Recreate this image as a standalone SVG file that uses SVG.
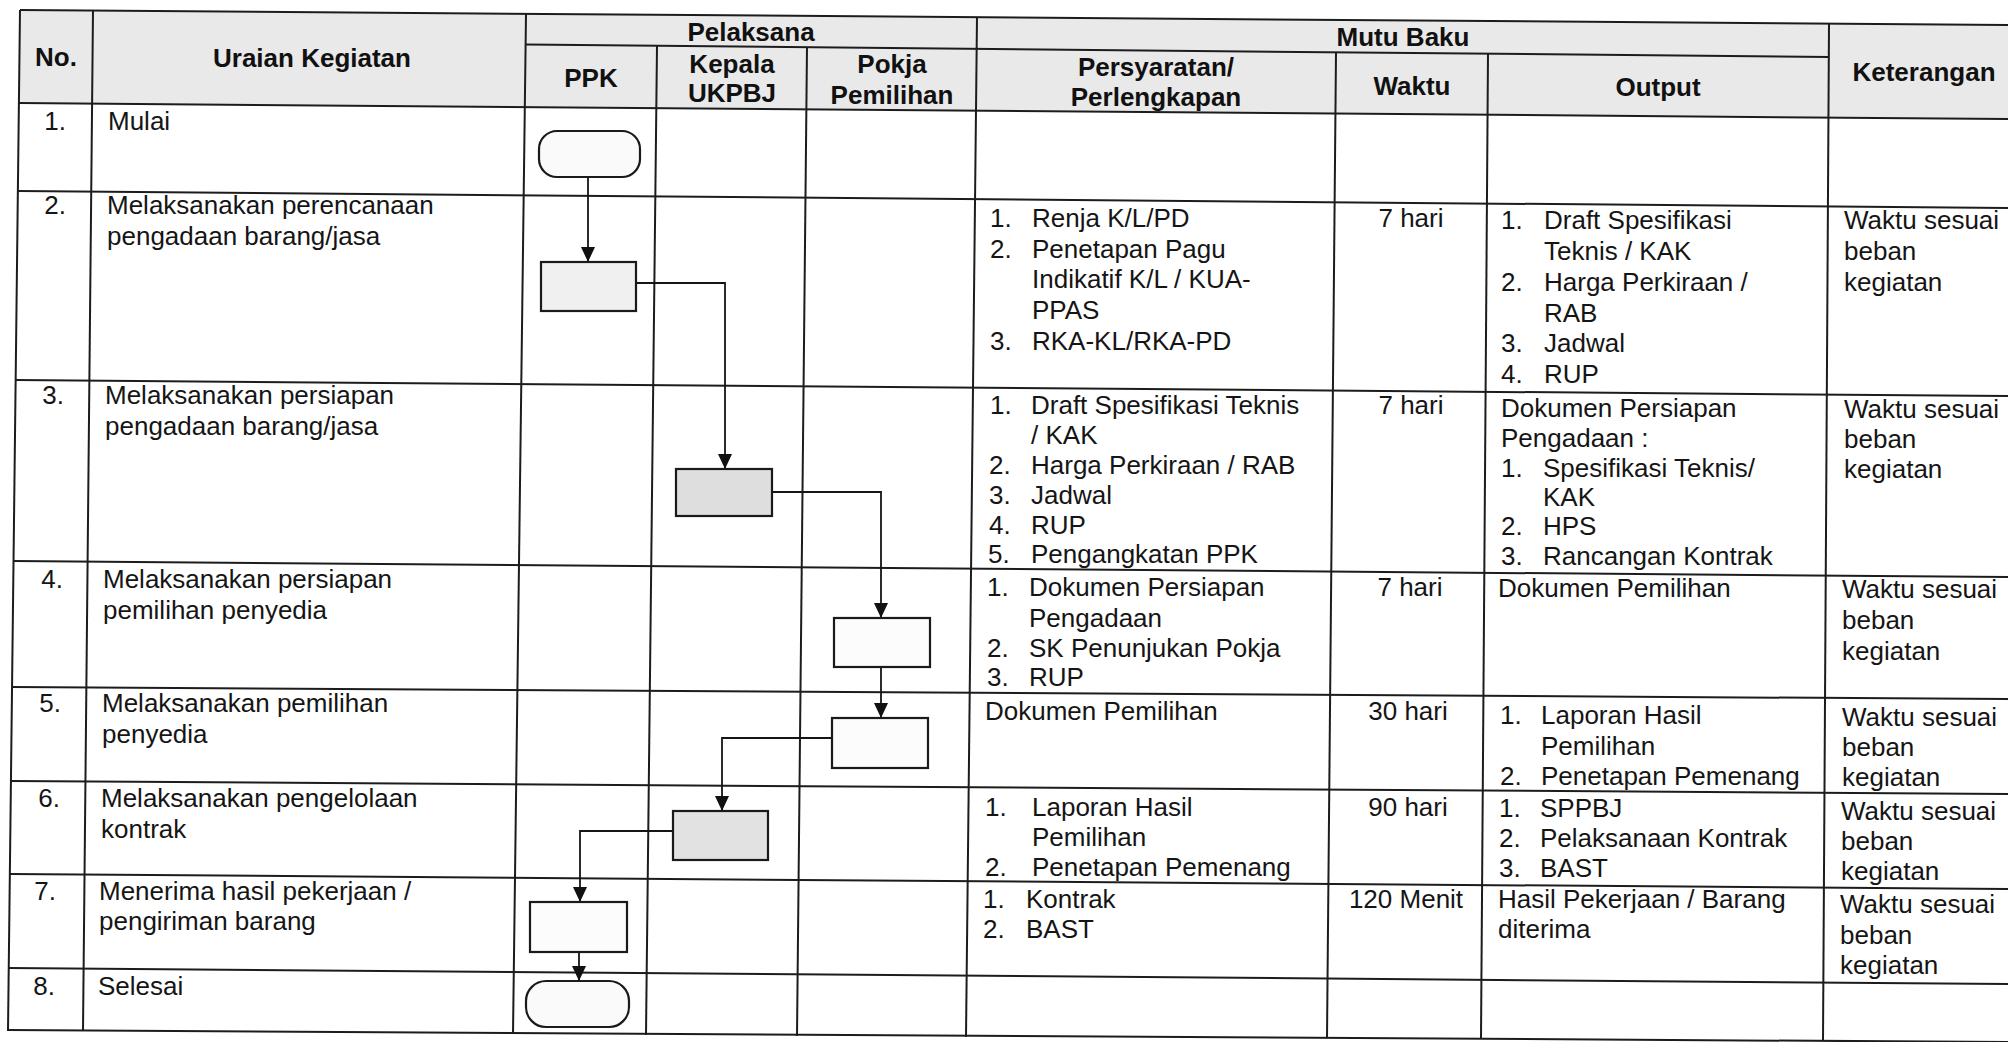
<svg xmlns="http://www.w3.org/2000/svg" width="2008" height="1042" viewBox="0 0 2008 1042">
<style>
.ln{stroke:#1c1c1c;stroke-width:2;fill:none}
.h{font-family:"Liberation Sans",Arial,sans-serif;font-size:26px;font-weight:bold;fill:#111;text-anchor:middle}
.t{font-family:"Liberation Sans",Arial,sans-serif;font-size:26px;fill:#151515}
.e{text-anchor:end}
.m{text-anchor:middle}
.box{stroke:#1a1a1a;stroke-width:2.2}
.cn{stroke:#151515;stroke-width:1.8;fill:none}
</style>
<defs>
<marker id="ah" viewBox="0 0 15 14" markerWidth="15" markerHeight="14" refX="15" refY="7" orient="auto" markerUnits="userSpaceOnUse">
<path d="M0,0 L15,7 L0,14 z" fill="#111"/>
</marker>
</defs>
<rect width="2008" height="1042" fill="#fff"/>
<polygon points="20,10 2008,25 2008,119 19,103" fill="#e9e9e9"/>
<g id="table">
<line class="ln" x1="20" y1="10" x2="2008" y2="25"/>
<line class="ln" x1="526" y1="44.5" x2="1829" y2="57"/>
<line class="ln" x1="19" y1="103" x2="2008" y2="119"/>
<line class="ln" x1="18" y1="191" x2="2008" y2="208"/>
<line class="ln" x1="15.6" y1="380" x2="2008" y2="396"/>
<line class="ln" x1="13.4" y1="561" x2="2008" y2="577"/>
<line class="ln" x1="11.9" y1="687" x2="2008" y2="699"/>
<line class="ln" x1="10.7" y1="781" x2="2008" y2="794"/>
<line class="ln" x1="9.6" y1="874" x2="2008" y2="889"/>
<line class="ln" x1="8.5" y1="968" x2="2008" y2="984"/>
<line class="ln" x1="7.8" y1="1030" x2="2008" y2="1042"/>
<line class="ln" x1="20" y1="10" x2="8" y2="1031"/>
<line class="ln" x1="93" y1="10.5" x2="83" y2="1031"/>
<line class="ln" x1="526" y1="14" x2="513" y2="1034"/>
<line class="ln" x1="657" y1="46" x2="646" y2="1035"/>
<line class="ln" x1="807" y1="47" x2="797" y2="1036"/>
<line class="ln" x1="977" y1="17" x2="966" y2="1037"/>
<line class="ln" x1="1336" y1="52" x2="1327" y2="1038"/>
<line class="ln" x1="1488" y1="53.5" x2="1481" y2="1039"/>
<line class="ln" x1="1829" y1="23.5" x2="1823" y2="1041"/>
</g>
<g id="header">
<text class="h" x="56" y="66">No.</text>
<text class="h" x="312" y="67">Uraian Kegiatan</text>
<text class="h" x="751" y="41">Pelaksana</text>
<text class="h" x="591" y="87">PPK</text>
<text class="h" x="732" y="73">Kepala</text>
<text class="h" x="732" y="102">UKPBJ</text>
<text class="h" x="892" y="73">Pokja</text>
<text class="h" x="892" y="104">Pemilihan</text>
<text class="h" x="1403" y="46">Mutu Baku</text>
<text class="h" x="1156" y="76">Persyaratan/</text>
<text class="h" x="1156" y="106">Perlengkapan</text>
<text class="h" x="1412" y="95">Waktu</text>
<text class="h" x="1658" y="96">Output</text>
<text class="h" x="1924" y="81">Keterangan</text>
</g>
<g id="row1">
<text class="t e" x="66" y="130">1.</text>
<text class="t" x="108" y="130">Mulai</text>
</g>
<g id="row2">
<text class="t e" x="66" y="214">2.</text>
<text class="t" x="107" y="214">Melaksanakan perencanaan</text>
<text class="t" x="107" y="245">pengadaan barang/jasa</text>
<text class="t" x="990" y="227">1.</text><text class="t" x="1032" y="227">Renja K/L/PD</text>
<text class="t" x="990" y="258">2.</text><text class="t" x="1032" y="258">Penetapan Pagu</text>
<text class="t" x="1032" y="288">Indikatif K/L / KUA-</text>
<text class="t" x="1032" y="319">PPAS</text>
<text class="t" x="990" y="350">3.</text><text class="t" x="1032" y="350">RKA-KL/RKA-PD</text>
<text class="t m" x="1411" y="227">7 hari</text>
<text class="t" x="1501" y="229">1.</text><text class="t" x="1544" y="229">Draft Spesifikasi</text>
<text class="t" x="1544" y="260">Teknis / KAK</text>
<text class="t" x="1501" y="291">2.</text><text class="t" x="1544" y="291">Harga Perkiraan /</text>
<text class="t" x="1544" y="322">RAB</text>
<text class="t" x="1501" y="352">3.</text><text class="t" x="1544" y="352">Jadwal</text>
<text class="t" x="1501" y="383">4.</text><text class="t" x="1544" y="383">RUP</text>
<text class="t" x="1844" y="229">Waktu sesuai</text>
<text class="t" x="1844" y="260">beban</text>
<text class="t" x="1844" y="291">kegiatan</text>
</g>
<g id="row3">
<text class="t e" x="64" y="404">3.</text>
<text class="t" x="105" y="404">Melaksanakan persiapan</text>
<text class="t" x="105" y="435">pengadaan barang/jasa</text>
<text class="t" x="990" y="414">1.</text><text class="t" x="1031" y="414">Draft Spesifikasi Teknis</text>
<text class="t" x="1031" y="444">/ KAK</text>
<text class="t" x="989" y="474">2.</text><text class="t" x="1031" y="474">Harga Perkiraan / RAB</text>
<text class="t" x="989" y="504">3.</text><text class="t" x="1031" y="504">Jadwal</text>
<text class="t" x="989" y="534">4.</text><text class="t" x="1031" y="534">RUP</text>
<text class="t" x="988" y="563">5.</text><text class="t" x="1031" y="563">Pengangkatan PPK</text>
<text class="t m" x="1411" y="414">7 hari</text>
<text class="t" x="1501" y="417">Dokumen Persiapan</text>
<text class="t" x="1501" y="447">Pengadaan :</text>
<text class="t" x="1501" y="477">1.</text><text class="t" x="1543" y="477">Spesifikasi Teknis/</text>
<text class="t" x="1543" y="506">KAK</text>
<text class="t" x="1501" y="535">2.</text><text class="t" x="1543" y="535">HPS</text>
<text class="t" x="1501" y="565">3.</text><text class="t" x="1543" y="565">Rancangan Kontrak</text>
<text class="t" x="1844" y="418">Waktu sesuai</text>
<text class="t" x="1844" y="448">beban</text>
<text class="t" x="1844" y="478">kegiatan</text>
</g>
<g id="row4">
<text class="t e" x="63" y="588">4.</text>
<text class="t" x="103" y="588">Melaksanakan persiapan</text>
<text class="t" x="103" y="619">pemilihan penyedia</text>
<text class="t" x="987" y="596">1.</text><text class="t" x="1029" y="596">Dokumen Persiapan</text>
<text class="t" x="1029" y="627">Pengadaan</text>
<text class="t" x="987" y="657">2.</text><text class="t" x="1029" y="657">SK Penunjukan Pokja</text>
<text class="t" x="987" y="686">3.</text><text class="t" x="1029" y="686">RUP</text>
<text class="t m" x="1410" y="596">7 hari</text>
<text class="t" x="1498" y="597">Dokumen Pemilihan</text>
<text class="t" x="1842" y="598">Waktu sesuai</text>
<text class="t" x="1842" y="629">beban</text>
<text class="t" x="1842" y="660">kegiatan</text>
</g>
<g id="row5">
<text class="t e" x="61" y="712">5.</text>
<text class="t" x="102" y="712">Melaksanakan pemilihan</text>
<text class="t" x="102" y="743">penyedia</text>
<text class="t" x="985" y="720">Dokumen Pemilihan</text>
<text class="t m" x="1408" y="720">30 hari</text>
<text class="t" x="1500" y="724">1.</text><text class="t" x="1541" y="724">Laporan Hasil</text>
<text class="t" x="1541" y="755">Pemilihan</text>
<text class="t" x="1500" y="785">2.</text><text class="t" x="1541" y="785">Penetapan Pemenang</text>
<text class="t" x="1842" y="726">Waktu sesuai</text>
<text class="t" x="1842" y="756">beban</text>
<text class="t" x="1842" y="786">kegiatan</text>
</g>
<g id="row6">
<text class="t e" x="60" y="807">6.</text>
<text class="t" x="101" y="807">Melaksanakan pengelolaan</text>
<text class="t" x="101" y="838">kontrak</text>
<text class="t" x="985" y="816">1.</text><text class="t" x="1032" y="816">Laporan Hasil</text>
<text class="t" x="1032" y="846">Pemilihan</text>
<text class="t" x="985" y="876">2.</text><text class="t" x="1032" y="876">Penetapan Pemenang</text>
<text class="t m" x="1408" y="816">90 hari</text>
<text class="t" x="1499" y="817">1.</text><text class="t" x="1540" y="817">SPPBJ</text>
<text class="t" x="1499" y="847">2.</text><text class="t" x="1540" y="847">Pelaksanaan Kontrak</text>
<text class="t" x="1499" y="877">3.</text><text class="t" x="1540" y="877">BAST</text>
<text class="t" x="1841" y="820">Waktu sesuai</text>
<text class="t" x="1841" y="850">beban</text>
<text class="t" x="1841" y="880">kegiatan</text>
</g>
<g id="row7">
<text class="t e" x="56" y="900">7.</text>
<text class="t" x="99" y="900">Menerima hasil pekerjaan /</text>
<text class="t" x="99" y="930">pengiriman barang</text>
<text class="t" x="983" y="908">1.</text><text class="t" x="1026" y="908">Kontrak</text>
<text class="t" x="983" y="938">2.</text><text class="t" x="1026" y="938">BAST</text>
<text class="t m" x="1406" y="908">120 Menit</text>
<text class="t" x="1498" y="908">Hasil Pekerjaan / Barang</text>
<text class="t" x="1498" y="938">diterima</text>
<text class="t" x="1840" y="913">Waktu sesuai</text>
<text class="t" x="1840" y="944">beban</text>
<text class="t" x="1840" y="974">kegiatan</text>
</g>
<g id="row8">
<text class="t e" x="55" y="995">8.</text>
<text class="t" x="98" y="995">Selesai</text>
</g>
<g id="connectors">
<path class="cn" d="M588,177 V262" marker-end="url(#ah)"/>
<path class="cn" d="M636,283 H725 V469" marker-end="url(#ah)"/>
<path class="cn" d="M772,492 H881 V618" marker-end="url(#ah)"/>
<path class="cn" d="M881,667 V718" marker-end="url(#ah)"/>
<path class="cn" d="M832,738 H722 V811" marker-end="url(#ah)"/>
<path class="cn" d="M673,831 H580 V902" marker-end="url(#ah)"/>
<path class="cn" d="M579,952 V981" marker-end="url(#ah)"/>
</g>
<g id="start"><rect class="box" x="539" y="131" width="101" height="46" rx="18" ry="18" fill="#fafafa"/></g>
<g id="step1"><rect class="box" x="541" y="262" width="95" height="49" fill="#f0f0f0"/></g>
<g id="step2"><rect class="box" x="676" y="469" width="96" height="47" fill="#dedede"/></g>
<g id="step3"><rect class="box" x="834" y="618" width="96" height="49" fill="#fcfcfc"/></g>
<g id="step4"><rect class="box" x="832" y="718" width="96" height="50" fill="#fcfcfc"/></g>
<g id="step5"><rect class="box" x="673" y="811" width="95" height="49" fill="#e2e2e2"/></g>
<g id="step6"><rect class="box" x="530" y="902" width="97" height="50" fill="#fcfcfc"/></g>
<g id="end"><rect class="box" x="526" y="981" width="103" height="46" rx="20" ry="20" fill="#fafafa"/></g>
</svg>
